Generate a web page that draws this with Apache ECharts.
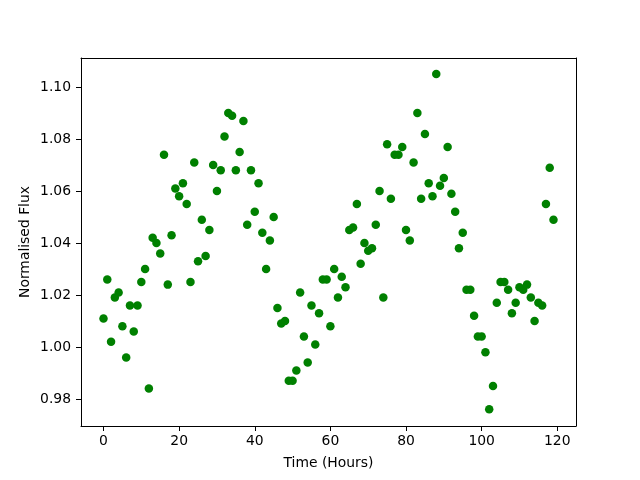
<!DOCTYPE html>
<html>
<head>
<meta charset="utf-8">
<script src="https://cdn.jsdelivr.net/npm/echarts@6/dist/echarts.min.js"></script>
<style>
  html, body { margin: 0; padding: 0; background: #fff; }
  #chart { width: 640px; height: 480px; }
</style>
</head>
<body>
<div id="chart"></div>
<script>
// Hourly samples, 0..119
const hours = Array.from({ length: 120 }, (_, i) => i);

// Normalised flux values
const flux = [
  1.011, 1.026, 1.002, 1.019, 1.021, 1.008, 0.996, 1.016, 1.006, 1.016,
  1.025, 1.030, 0.984, 1.042, 1.040, 1.036, 1.074, 1.024, 1.043, 1.061,
  1.058, 1.063, 1.055, 1.025, 1.071, 1.033, 1.049, 1.035, 1.045, 1.070,
  1.060, 1.068, 1.081, 1.090, 1.089, 1.068, 1.075, 1.087, 1.047, 1.068,
  1.052, 1.063, 1.044, 1.030, 1.041, 1.050, 1.015, 1.009, 1.010, 0.987,
  0.987, 0.991, 1.021, 1.004, 0.994, 1.016, 1.001, 1.013, 1.026, 1.026,
  1.008, 1.030, 1.019, 1.027, 1.023, 1.045, 1.046, 1.055, 1.032, 1.040,
  1.037, 1.038, 1.047, 1.060, 1.019, 1.078, 1.057, 1.074, 1.074, 1.077,
  1.045, 1.041, 1.071, 1.090, 1.057, 1.082, 1.063, 1.058, 1.105, 1.062,
  1.065, 1.077, 1.059, 1.052, 1.038, 1.044, 1.022, 1.022, 1.012, 1.004,
  1.004, 0.998, 0.976, 0.985, 1.017, 1.025, 1.025, 1.022, 1.013, 1.017,
  1.023, 1.022, 1.024, 1.019, 1.010, 1.017, 1.016, 1.055, 1.069, 1.049
];

const xTicks = [0, 20, 40, 60, 80, 100, 120];
const yTicks = [0.98, 1.00, 1.02, 1.04, 1.06, 1.08, 1.10];

const chart = echarts.init(document.getElementById('chart'), null, { renderer: 'canvas' });

const font = 'DejaVu Sans';
const textStyle = { color: '#000', fontFamily: font, fontSize: 13.9 };
const blackLine = { show: true, onZero: false, lineStyle: { color: '#000', width: 1 } };

// bare axes used only to close the frame on top and right
const frameAxis = (pos, min, max) => ({
  type: 'value',
  position: pos,
  min,
  max,
  axisLine: blackLine,
  axisTick: { show: false },
  axisLabel: { show: false },
  splitLine: { show: false },
});

chart.setOption({
  animation: false,
  textStyle: { fontFamily: font },
  grid: {
    left: 81,
    right: 64,
    top: 58,
    bottom: 54,
  },
  xAxis: [
    {
      type: 'value',
      position: 'bottom',
      min: -5.95,
      max: 124.95,
      name: 'Time (Hours)',
      nameLocation: 'middle',
      nameGap: 30,
      nameMoveOverlap: false,
      nameTextStyle: textStyle,
      axisLine: blackLine,
      axisTick: { show: true, length: 5, customValues: xTicks, lineStyle: { color: '#000' } },
      axisLabel: {
        ...textStyle,
        margin: 8,
        customValues: xTicks,
        formatter: (v) => String(Math.round(v)),
      },
      splitLine: { show: false },
    },
    frameAxis('top', -5.95, 124.95),
  ],
  yAxis: [
    {
      type: 'value',
      position: 'left',
      min: 0.9696,
      max: 1.1112,
      name: 'Normalised Flux',
      nameLocation: 'middle',
      nameGap: 49,
      nameMoveOverlap: false,
      nameTextStyle: textStyle,
      axisLine: blackLine,
      axisTick: { show: true, length: 5, customValues: yTicks, lineStyle: { color: '#000' } },
      axisLabel: {
        ...textStyle,
        margin: 10,
        customValues: yTicks,
        formatter: (v) => v.toFixed(2),
      },
      splitLine: { show: false },
    },
    frameAxis('right', 0.9696, 1.1112),
  ],
  series: [
    {
      type: 'scatter',
      xAxisIndex: 0,
      yAxisIndex: 0,
      data: hours.map((h, i) => [h, flux[i]]),
      symbol: 'circle',
      symbolSize: 8.5,
      itemStyle: { color: '#008000', opacity: 1 },
    },
  ],
});
</script>
</body>
</html>
